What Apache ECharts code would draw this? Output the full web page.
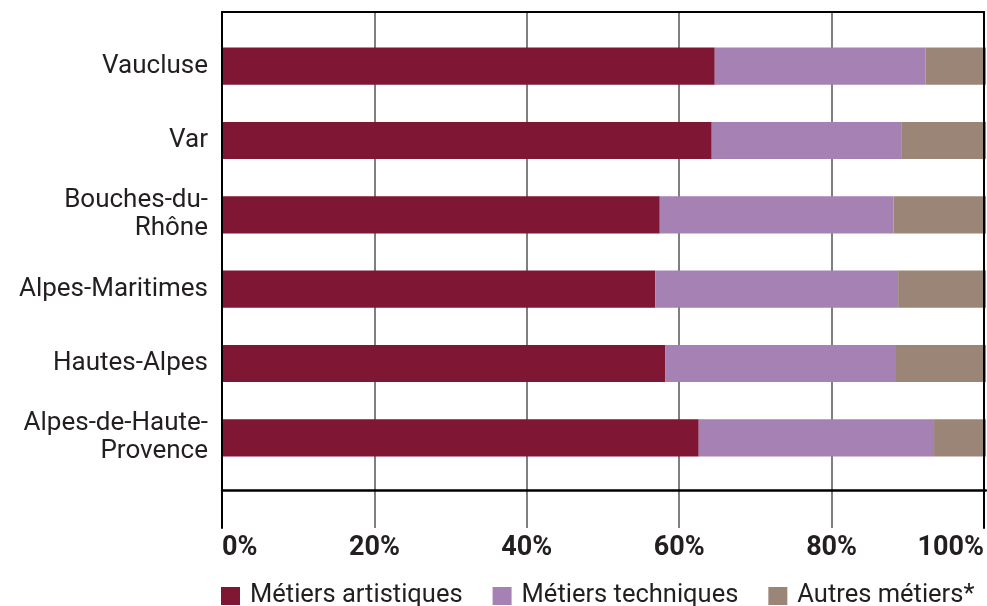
<!DOCTYPE html>
<html>
<head>
<meta charset="utf-8">
<script src="https://cdn.jsdelivr.net/npm/echarts@6/dist/echarts.min.js"></script>
<style>html,body{margin:0;padding:0;background:#fff}#c{width:987px;height:606px}</style>
</head>
<body>
<div id="c"></div>
<script>
const categories = ['Vaucluse', 'Var', 'Bouches-du-\nRhône', 'Alpes-Maritimes', 'Hautes-Alpes', 'Alpes-de-Haute-\nProvence'];
const artistiques = [64.5, 64.1, 57.3, 56.7, 58.0, 62.4];
const techniques = [27.6, 24.8, 30.6, 31.8, 30.1, 30.8];
const autres = [7.9, 11.1, 12.1, 11.5, 11.9, 6.8];
const seriesNames = ['Métiers artistiques', 'Métiers techniques', 'Autres métiers*'];
const tickValues = [0, 20, 40, 60, 80, 100];

const FONT = 'Roboto, "Noto Sans", sans-serif';
const chart = echarts.init(document.getElementById('c'), null, {renderer: 'canvas'});
const hidden = {show: false};
chart.setOption({
  animation: false,
  textStyle: {fontFamily: FONT},
  grid: [
    {left: 222, right: 1, top: 29, height: 446, containLabel: false},
    {left: 222, right: 1, top: 12, bottom: 78, containLabel: false}
  ],
  legend: {
    data: seriesNames,
    icon: 'rect',
    itemWidth: 19, itemHeight: 18, itemGap: 30, itemStyle: {borderWidth: 0},
    left: 216, top: 578,
    textStyle: {fontSize: 25.5, color: '#231f20', fontFamily: FONT, padding: [0, 0, 0, 5]}
  },
  xAxis: [
    {type: 'value', gridIndex: 0, min: 0, max: 100, position: 'bottom', offset: 15,
     axisLine: {show: true, onZero: false, lineStyle: {color: '#000', width: 2.5}},
     axisTick: hidden, axisLabel: hidden, splitLine: hidden, z: 10},
    {type: 'value', gridIndex: 1, min: 0, max: 100, interval: 20, position: 'bottom',
     axisLine: {show: false, onZero: false}, axisTick: hidden,
     splitLine: {show: true, lineStyle: {color: '#555', width: 1.5}},
     axisLabel: {show: true, margin: 7, fontSize: 27, fontWeight: 'bold', color: '#231f20',
       alignMinLabel: 'left', alignMaxLabel: 'right',
       customValues: tickValues,
       formatter: v => v + '%'}},
    {type: 'value', gridIndex: 1, min: 0, max: 100, position: 'top',
     axisLine: {show: true, onZero: false, lineStyle: {color: '#000', width: 2}},
     axisTick: hidden, axisLabel: hidden, splitLine: hidden, z: 10}
  ],
  yAxis: [
    {type: 'category', gridIndex: 0, data: categories, inverse: true,
     axisLine: hidden, axisTick: hidden, splitLine: hidden,
     axisLabel: {margin: 14, fontSize: 26, color: '#231f20', lineHeight: 28, align: 'right', padding: [6, 0, 0, 0]}},
    {type: 'value', gridIndex: 1, min: 0, max: 1, position: 'left',
     axisLine: {show: true, onZero: false, lineStyle: {color: '#000', width: 2}},
     axisTick: hidden, axisLabel: hidden, splitLine: hidden, z: 10},
    {type: 'value', gridIndex: 1, min: 0, max: 1, position: 'right',
     axisLine: {show: true, onZero: false, lineStyle: {color: '#000', width: 2}},
     axisTick: hidden, axisLabel: hidden, splitLine: hidden, z: 10}
  ],
  series: [
    {name: seriesNames[0], type: 'bar', stack: 'a', xAxisIndex: 0, yAxisIndex: 0, barWidth: '50%',
     itemStyle: {color: '#7f1734'}, data: artistiques},
    {name: seriesNames[1], type: 'bar', stack: 'a', xAxisIndex: 0, yAxisIndex: 0, barWidth: '50%',
     itemStyle: {color: '#a681b4'}, data: techniques},
    {name: seriesNames[2], type: 'bar', stack: 'a', xAxisIndex: 0, yAxisIndex: 0, barWidth: '50%',
     itemStyle: {color: '#9b8577'}, data: autres}
  ]
});
</script>
</body>
</html>
